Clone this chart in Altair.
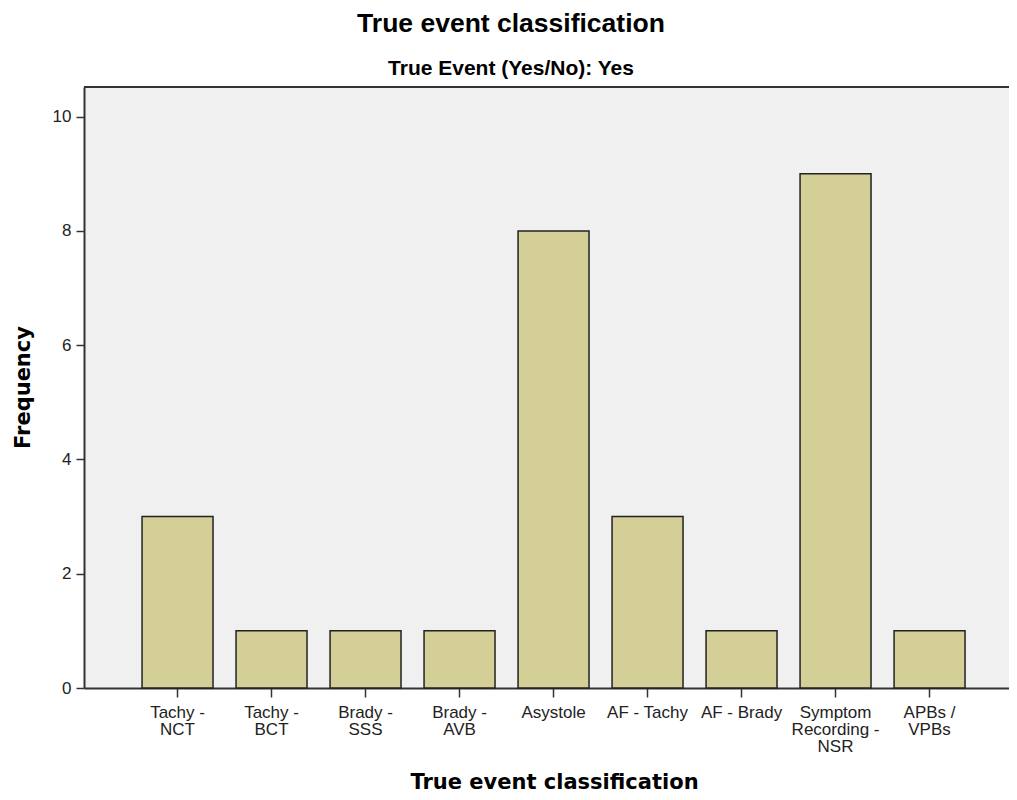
import altair as alt
import pandas as pd

categories = [
    "Tachy -\nNCT", "Tachy -\nBCT", "Brady -\nSSS", "Brady -\nAVB",
    "Asystole", "AF - Tachy", "AF - Brady", "Symptom\nRecording -\nNSR", "APBs /\nVPBs",
]
frequencies = [3, 1, 1, 1, 8, 3, 1, 9, 1]
y_ticks = [0, 2, 4, 6, 8, 10]
y_max = 10.52

df = pd.DataFrame({"category": categories, "frequency": frequencies})
top_df = pd.DataFrame({"y": [y_max]})

y_axis = alt.Axis(
    values=y_ticks, format="d", grid=False, title="Frequency",
    labelFont="Liberation Sans", labelFontSize=17, labelColor="#222222",
    labelPadding=5, tickSize=8, tickWidth=1.5, tickColor="#333333",
    domainColor="#333333", domainWidth=2,
    titleFont="DejaVu Sans", titleFontSize=21, titleFontWeight="bold",
    titleColor="black", titleX=-61, titleY=300, titleBaseline="middle",
    titleAlign="center", titleAngle=270,
)

bars = alt.Chart(df).mark_bar(fill="#d3cf97", stroke="#222222", strokeWidth=1.5).encode(
    x=alt.X(
        "category:N", sort=categories,
        scale=alt.Scale(paddingInner=0.245, paddingOuter=0.5426, align=0.569),
        axis=alt.Axis(
            title="True event classification",
            labelExpr="split(datum.label, '\\n')", labelAngle=0,
            labelFont="Liberation Sans", labelFontSize=17, labelLineHeight=17,
            labelColor="#222222", labelPadding=7,
            tickSize=9, tickWidth=1.5, tickColor="#333333",
            domainColor="#333333", domainWidth=2,
            titleFont="DejaVu Sans", titleFontSize=21, titleFontWeight="bold",
            titleColor="black", titleX=470, titleY=100, titleBaseline="alphabetic",
        ),
    ),
    y=alt.Y("frequency:Q", scale=alt.Scale(domain=[0, y_max], nice=False, zero=True), axis=y_axis),
)

top_line = alt.Chart(top_df).mark_rule(color="#333333", strokeWidth=2).encode(
    y=alt.Y("y:Q", title="Frequency")
)

chart = alt.layer(bars, top_line).properties(
    width=925, height=601,
    autosize="none",
    padding={"left": 76, "top": 79, "right": 0, "bottom": 105},
    background="white",
    title=alt.TitleParams(
        text="True event classification",
        subtitle="True Event (Yes/No): Yes",
        anchor="middle", frame="bounds",
        font="Liberation Sans", fontSize=26.5, fontWeight="bold", color="black",
        subtitleFont="Liberation Sans", subtitleFontSize=21, subtitleFontWeight="bold",
        subtitleColor="black", subtitlePadding=21, offset=7,
    ),
).configure_view(stroke=None, fill="#f0f0f0")

chart.save("out.html", embed_options={"renderer": "svg", "actions": False})
